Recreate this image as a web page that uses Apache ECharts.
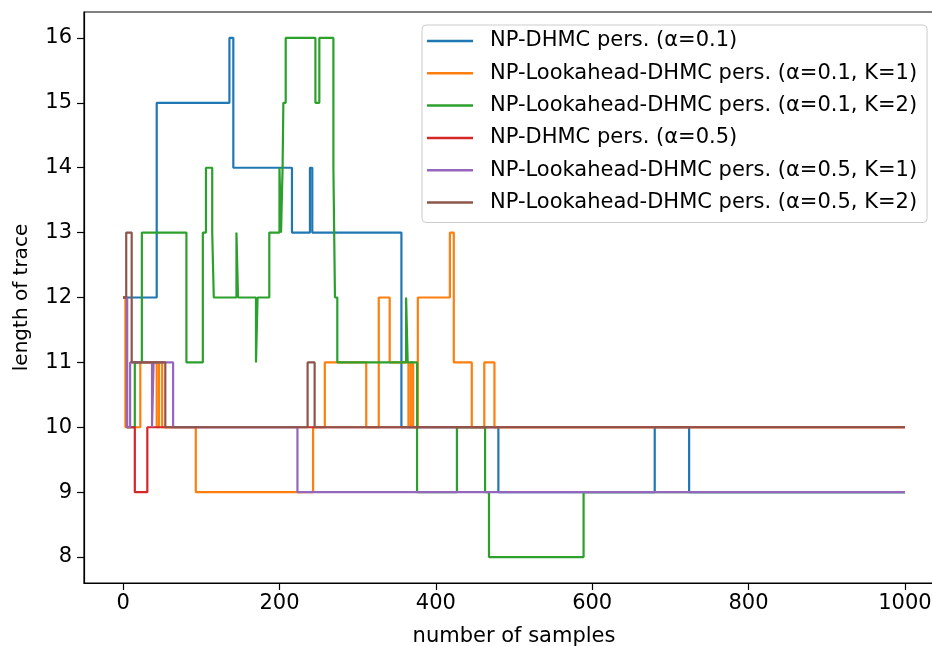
<!DOCTYPE html>
<html>

<head>
  <meta charset="UTF-8" />
  <title>length of trace</title>
  <style type="text/css">
    * {
      margin: 0;
      padding: 0;
    }
    body {
      background-color: #fff;
    }
    #main {
      width: 932px;
      height: 646px;
    }
  </style>
</head>

<body>
  <div id="main"></div>
</body>
<script src="https://cdn.jsdelivr.net/npm/echarts@6/dist/echarts.min.js"></script>
<script type="text/javascript">
  // 每条线: 变化点的 x (样本编号) 和从该点开始的 y 值
  const blueX = [0, 43, 136, 141, 216, 239, 242, 356, 480, 680, 724, 1000]
  const blueY = [12, 15, 16, 14, 13, 14, 13, 10, 9, 10, 9, 9]

  const orangeX = [0, 3, 22, 43, 46, 50, 93, 243, 258, 311, 327, 341, 365, 368, 371, 377, 418, 423, 446, 462, 475, 1000]
  const orangeY = [12, 10, 11, 10, 11, 10, 9, 10, 11, 10, 12, 11, 10, 11, 10, 12, 13, 11, 10, 11, 10, 10]

  const greenX = [0, 5, 15, 24, 81, 102, 106, 114, 116, 145, 147, 170, 172, 187, 200, 202, 204, 205, 208, 246, 251, 269, 271, 274, 362, 364, 376, 427, 463, 468, 589, 1000]
  const greenY = [12, 10, 11, 13, 11, 13, 14, 13, 12, 13, 12, 11, 12, 13, 14, 13, 14, 15, 16, 15, 16, 14, 12, 11, 12, 11, 9, 10, 9, 8, 9, 9]

  const redX = [0, 5, 15, 31, 1000]
  const redY = [12, 10, 9, 10, 10]

  const purpleX = [0, 5, 9, 37, 39, 64, 223, 1000]
  const purpleY = [12, 10, 11, 10, 11, 10, 9, 9]

  const brownX = [0, 4, 11, 54, 236, 245, 1000]
  const brownY = [12, 13, 11, 10, 11, 10, 10]

  const xTicks = [0, 200, 400, 600, 800, 1000]
  const yTicks = [8, 9, 10, 11, 12, 13, 14, 15, 16]

  const names = [
    'NP-DHMC pers. (α=0.1)',
    'NP-Lookahead-DHMC pers. (α=0.1, K=1)',
    'NP-Lookahead-DHMC pers. (α=0.1, K=2)',
    'NP-DHMC pers. (α=0.5)',
    'NP-Lookahead-DHMC pers. (α=0.5, K=1)',
    'NP-Lookahead-DHMC pers. (α=0.5, K=2)'
  ]
  const colors = ['#1f77b4', '#ff7f0e', '#2ca02c', '#d62728', '#9467bd', '#8c564b']
  const lines = [
    [blueX, blueY],
    [orangeX, orangeY],
    [greenX, greenY],
    [redX, redY],
    [purpleX, purpleY],
    [brownX, brownY]
  ]

  const font = 'DejaVu Sans'
  let myChart = echarts.init(document.getElementById('main'))

  function pairs(xs, ys) {
    return xs.map((x, i) => [x, ys[i]])
  }

  let series = lines.map((item, i) => {
    return {
      name: names[i],
      type: 'line',
      step: 'end',
      symbol: 'none',
      color: colors[i],
      lineStyle: { width: 2.2, color: colors[i] },
      data: pairs(item[0], item[1])
    }
  })

  let option = {
    animation: false,
    backgroundColor: '#fff',
    textStyle: { fontFamily: font },
    // 原图右边框和底部标题被裁掉了, 不让 grid 自动缩进画布
    grid: {
      left: 84,
      width: 860,
      top: 12,
      bottom: 63,
      outerBoundsMode: 'none',
      containLabel: false,
      show: true,
      borderColor: '#000',
      borderWidth: 1.2,
      backgroundColor: 'transparent'
    },
    legend: {
      orient: 'vertical',
      left: 422,
      top: 25,
      padding: [5, 10, 9, 5],
      itemWidth: 46,
      itemHeight: 2.5,
      itemGap: 10.3,
      icon: 'rect',
      backgroundColor: 'rgba(255,255,255,0.8)',
      borderColor: '#cccccc',
      borderWidth: 1,
      borderRadius: 4,
      textStyle: {
        fontFamily: font,
        fontSize: 21,
        color: '#000',
        lineHeight: 22,
        padding: [0, 0, 0, 12]
      },
      data: names
    },
    xAxis: {
      type: 'value',
      min: -50,
      max: 1050,
      name: 'number of samples',
      nameLocation: 'middle',
      nameGap: 43,
      nameTextStyle: { fontFamily: font, fontSize: 21, color: '#000' },
      splitLine: { show: false },
      axisLine: { onZero: false, lineStyle: { color: '#000', width: 1.2 } },
      axisTick: { length: 7, lineStyle: { color: '#000', width: 1.2 }, customValues: xTicks },
      axisLabel: {
        fontFamily: font, fontSize: 21, color: '#000', margin: 10,
        customValues: xTicks,
        formatter: v => String(v)
      }
    },
    yAxis: {
      type: 'value',
      min: 7.6,
      max: 16.4,
      name: 'length of trace',
      nameLocation: 'middle',
      nameGap: 52,
      nameTextStyle: { fontFamily: font, fontSize: 20, color: '#000' },
      splitLine: { show: false },
      axisLine: { show: true, onZero: false, lineStyle: { color: '#000', width: 1.2 } },
      axisTick: { show: true, length: 7, lineStyle: { color: '#000', width: 1.2 }, customValues: yTicks },
      axisLabel: { fontFamily: font, fontSize: 21, color: '#000', margin: 12, customValues: yTicks }
    },
    series: series
  }
  myChart.setOption(option)
</script>

</html>
